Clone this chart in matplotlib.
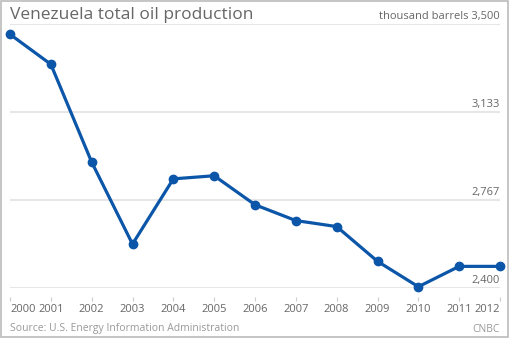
import matplotlib
matplotlib.use("Agg")
import matplotlib.pyplot as plt
import matplotlib.transforms as mtransforms
from matplotlib.patches import Rectangle

# Venezuela oil production, thousand barrels per day
years = [2000, 2001, 2002, 2003, 2004, 2005, 2006, 2007, 2008, 2009, 2010, 2011, 2012]
production = [3457, 3332, 2924, 2582, 2854, 2867, 2746, 2680, 2655, 2510, 2404, 2489, 2489]
grid_values = [2400, 2767, 3133, 3500]
grid_labels = ["2,400", "2,767", "3,133", "thousand barrels 3,500"]

plt.rcParams["font.family"] = ["Open Sans", "DejaVu Sans"]
text_grey = "#666666"
line_blue = "#0b56a8"

fig = plt.figure(figsize=(5.10, 3.38), dpi=100)
fig.patch.set_facecolor("white")
fig.patches.append(Rectangle((0.001, 0.0015), 0.996, 0.995, transform=fig.transFigure,
                             fill=False, edgecolor="#bbbbbb", linewidth=1.2))

ax = fig.add_axes([10 / 510, 1 - 287.7 / 338, 490 / 510, (287.7 - 24) / 338])
ax.set_xlim(years[0], years[-1])
ax.set_ylim(grid_values[0], grid_values[-1])

# horizontal grid lines with their labels sitting on top, right side
for v, lab in zip(grid_values, grid_labels):
    ax.axhline(v, color="#e6e6e6", linewidth=1.5, zorder=1)
    ax.text(1.0, v + 8, lab, transform=mtransforms.blended_transform_factory(ax.transAxes, ax.transData),
            ha="right", va="bottom", fontsize=8, color=text_grey)

ax.plot(years, production, color=line_blue, linewidth=2.3, marker="o", markersize=6,
        zorder=3, clip_on=False)

for s in ["top", "right", "left"]:
    ax.spines[s].set_visible(False)
ax.spines["bottom"].set_position(("outward", 7))
ax.spines["bottom"].set_visible(False)
ax.set_yticks([])
ax.set_xticks(years)
ax.set_xticklabels([str(y) for y in years])
ax.tick_params(axis="x", direction="out", length=3, width=0.8, color="#cccccc",
               labelsize=8, labelcolor=text_grey, pad=2)
ticklabels = ax.get_xticklabels()
ticklabels[0].set_ha("left")
ticklabels[-1].set_ha("right")

fig.text(10 / 510, 1 - 15 / 338, "Venezuela total oil production", fontsize=12.5,
         color=text_grey, ha="left", va="center")
fig.text(10 / 510, 1 - 329 / 338, "Source: U.S. Energy Information Administration",
         fontsize=7.5, color="#999999", ha="left", va="center")
fig.text(500 / 510, 1 - 329 / 338, "CNBC", fontsize=7.5, color="#999999",
         ha="right", va="center")

fig.savefig("out.png", dpi=100, facecolor="white")
